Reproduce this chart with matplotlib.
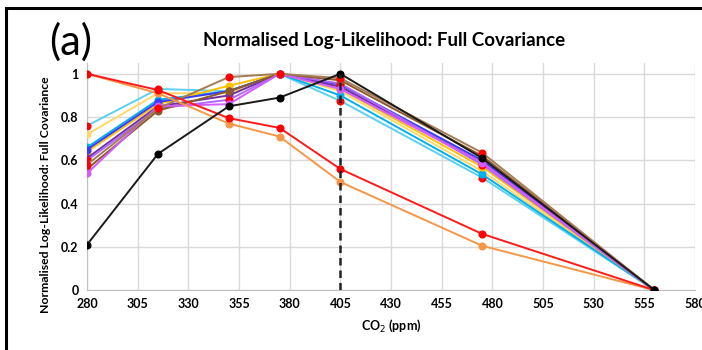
import matplotlib
matplotlib.use("Agg")
import matplotlib.pyplot as plt
from matplotlib.lines import Line2D

plt.rcParams['font.family'] = ['Lato', 'DejaVu Sans']

co2 = [280, 315, 350, 375, 405, 475, 560]

series_names = ["cyan", "lightyellow", "skyblue", "gold", "blue", "purple",
                "violet", "brown", "magenta", "lightbrown", "orange", "red", "black"]
line_colors = ["#5bd0f2", "#ffd966", "#00b0f0", "#ffc000", "#3a3aff", "#7030a0",
               "#b266ff", "#8c5a2b", "#d15cff", "#a57c52", "#f79646", "#ff1a1a", "#1a1a1a"]
marker_colors = ["#ff0000", "#ffd966", "#00b0f0", "#ffc000", "#3a3aff", "#7030a0",
                 "#ff0000", "#8c5a2b", "#d15cff", "#ff0000", "#f79646", "#ff0000", "#000000"]
values = [
    [0.76, 0.93, 0.92, 1.00, 0.875, 0.52, 0.0],
    [0.72, 0.91, 0.91, 1.00, 0.92, 0.55, 0.0],
    [0.66, 0.88, 0.92, 1.00, 0.90, 0.535, 0.0],
    [0.64, 0.86, 0.945, 1.00, 0.93, 0.57, 0.0],
    [0.65, 0.87, 0.92, 1.00, 0.95, 0.60, 0.0],
    [0.61, 0.85, 0.90, 1.00, 0.94, 0.59, 0.0],
    [0.60, 0.84, 0.88, 1.00, 0.955, 0.58, 0.0],
    [0.56, 0.83, 0.92, 1.00, 0.97, 0.62, 0.0],
    [0.54, 0.85, 0.86, 1.00, 0.93, 0.59, 0.0],
    [0.58, 0.84, 0.985, 1.00, 0.98, 0.635, 0.0],
    [1.00, 0.91, 0.77, 0.71, 0.50, 0.205, 0.0],
    [1.00, 0.925, 0.795, 0.75, 0.56, 0.26, 0.0],
    [0.21, 0.63, 0.85, 0.89, 1.00, 0.61, 0.0],
]

xticks = list(range(280, 581, 25))
yticks = [0, 0.2, 0.4, 0.6, 0.8, 1]
ytick_labels = ["0", "0.2", "0.4", "0.6", "0.8", "1"]
best_co2 = 405

fig = plt.figure(figsize=(7.02, 3.5), dpi=100)
ax = fig.add_axes([0.124, 0.171, 0.866, 0.649])

for vals, lc, mc in zip(values, line_colors, marker_colors):
    ax.plot(co2, vals, color=lc, lw=1.4, marker='o', ms=4.8,
            markerfacecolor=mc, markeredgecolor=mc, zorder=3)

ax.plot([best_co2, best_co2], [0, 1], color='#222222', lw=1.8,
        ls=(0, (3, 2)), zorder=4)

ax.set_xlim(280, 580)
ax.set_ylim(0, 1.05)
ax.set_xticks(xticks)
ax.set_yticks(yticks)
ax.set_yticklabels(ytick_labels)
ax.grid(True, color='#d9d9d9', lw=1)
ax.set_axisbelow(True)
ax.tick_params(length=0, labelsize=9, pad=6)
for lab in ax.get_xticklabels() + ax.get_yticklabels():
    lab.set_fontweight('bold')
for s in ['top', 'right']:
    ax.spines[s].set_visible(False)
for s in ['left', 'bottom']:
    ax.spines[s].set_color('#bfbfbf')

ax.set_xlabel("CO$_2$ (ppm)", fontsize=9, fontweight='bold', labelpad=5)
ax.set_ylabel("Normalised Log-Likelihood: Full Covariance", fontsize=8.8,
              fontweight='bold', labelpad=5)
ax.yaxis.set_label_coords(-0.06, 0.42)
fig.text(0.547, 0.885, "Normalised Log-Likelihood: Full Covariance",
         ha='center', va='center', fontsize=13.5, fontweight='bold')
fig.text(0.07, 0.88, "(a)", ha='left', va='center', fontsize=30)

fig.add_artist(Line2D([0.008, 0.008], [0, 0.978], color='black', lw=2.2,
                      transform=fig.transFigure))
fig.add_artist(Line2D([0.008, 1.0], [0.978, 0.978], color='black', lw=2.2,
                      transform=fig.transFigure))

fig.savefig("out.png", dpi=100)
